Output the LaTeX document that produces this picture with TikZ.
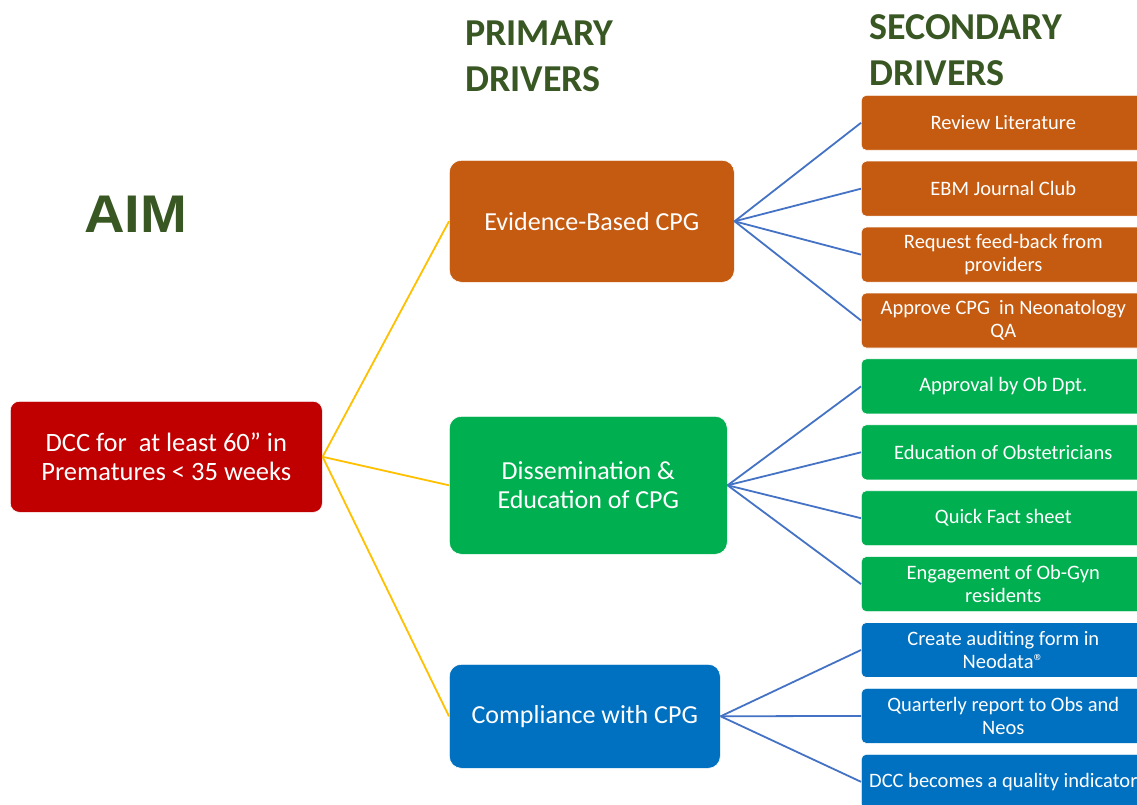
\documentclass[tikz,border=0pt]{standalone}
\usepackage{fontspec}
\setmainfont{Carlito}
\newfontfamily\aimfont{Liberation Sans}
\definecolor{hdrgreen}{HTML}{385723}
\definecolor{aimred}{HTML}{C00000}
\definecolor{evorange}{HTML}{C55A11}
\definecolor{disgreen}{HTML}{00B050}
\definecolor{compblue}{HTML}{0070C0}
\definecolor{linkblue}{HTML}{4472C4}
\definecolor{linkyellow}{HTML}{FFC000}
\begin{document}
\begin{tikzpicture}[x=1pt,y=-1pt,
  hdr/.style={anchor=base west,inner sep=0pt,align=left,text=hdrgreen,font=\fontsize{38}{46}\selectfont\bfseries},
  aimbox/.style={rectangle,rounded corners=9pt,fill=aimred,draw=white,line width=0.6pt,text=white,anchor=north west,minimum width=312pt,minimum height=111pt,align=center,font=\fontsize{26.5}{29}\selectfont},
  primbox/.style={rectangle,rounded corners=12pt,draw=white,line width=0.6pt,text=white,anchor=north west,align=center,font=\fontsize{26}{29}\selectfont},
  secbox/.style={rectangle,rounded corners=5pt,draw=white,line width=0.6pt,text=white,anchor=north west,minimum width=284pt,minimum height=55pt,align=center,font=\fontsize{20.5}{23}\selectfont},
  ylink/.style={draw=linkyellow,line width=1.8pt},
  blink/.style={draw=linkblue,line width=1.8pt}]
\useasboundingbox (0,0) rectangle (1137,805);
\fill[white] (0,0) rectangle (1137,805);

% headers
\node[anchor=base west,inner sep=0pt,text=hdrgreen,xscale=1.06,font=\aimfont\fontsize{53}{60}\selectfont\bfseries] (aimhdr) at (84,232) {AIM};
\node[hdr] (primhdr) at (465,92) {PRIMARY\\DRIVERS};
\node[hdr] (sechdr) at (869,86) {SECONDARY\\DRIVERS};

% aim
\node[aimbox] (aim) at (10,401) {DCC for\ \ at least 60” in\\Prematures < 35 weeks};

% primary
\node[primbox,fill=evorange,minimum width=285pt,minimum height=122pt] (p1) at (449,160) {Evidence-Based CPG};
\node[primbox,fill=disgreen,minimum width=278pt,minimum height=138pt] (p2) at (449,416) {Dissemination \&\\Education of CPG};
\node[primbox,fill=compblue,minimum width=271pt,minimum height=104pt] (p3) at (449,664) {Compliance with CPG};

% secondary
\node[secbox,fill=evorange] (s1) at (861,95) {Review Literature};
\node[secbox,fill=evorange] (s2) at (861,160.9) {EBM Journal Club};
\node[secbox,fill=evorange] (s3) at (861,226.8) {Request feed-back from\\providers};
\node[secbox,fill=evorange] (s4) at (861,292.7) {Approve CPG\ \ in Neonatology\\QA};
\node[secbox,fill=disgreen] (s5) at (861,358.6) {Approval by Ob Dpt.};
\node[secbox,fill=disgreen] (s6) at (861,424.5) {Education of Obstetricians};
\node[secbox,fill=disgreen] (s7) at (861,490.4) {Quick Fact sheet};
\node[secbox,fill=disgreen] (s8) at (861,556.3) {Engagement of Ob-Gyn\\residents};
\node[secbox,fill=compblue] (s9) at (861,622.2) {Create auditing form in\\Neodata®};
\node[secbox,fill=compblue] (s10) at (861,688.1) {Quarterly report to Obs and\\Neos};
\node[secbox,fill=compblue] (s11) at (861,754) {DCC becomes a quality indicator};

% connectors
\foreach \p in {p1,p2,p3}
  \draw[ylink] (aim.east) -- (\p.west);
\foreach \s in {s1,s2,s3,s4}
  \draw[blink] (p1.east) -- (\s.west);
\foreach \s in {s5,s6,s7,s8}
  \draw[blink] (p2.east) -- (\s.west);
\foreach \s in {s9,s10,s11}
  \draw[blink] (p3.east) -- (\s.west);
\end{tikzpicture}
\end{document}
